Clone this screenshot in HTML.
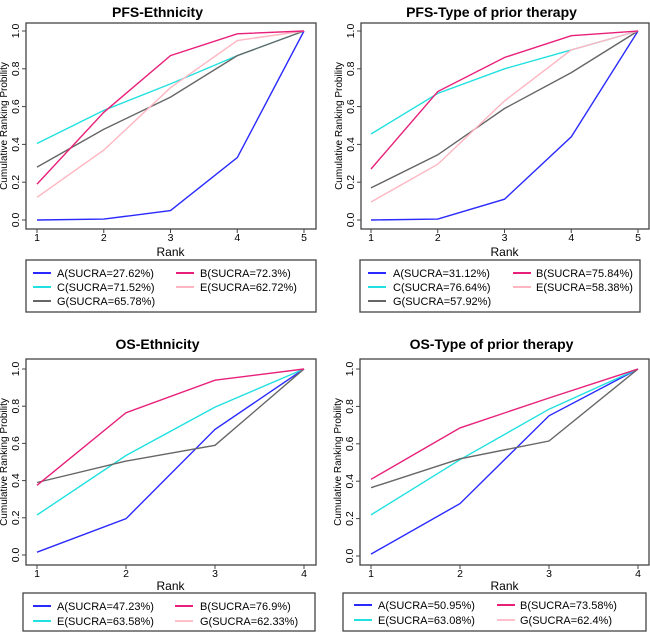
<!DOCTYPE html>
<html><head><meta charset="utf-8"><style>
body{margin:0;background:#fff;}
svg{display:block;font-family:"Liberation Sans",Arial,sans-serif;}
</style></head><body>
<svg id="c" width="650" height="632" viewBox="0 0 650 632"></svg>
<script>
const ranks5 = [1,2,3,4,5];
const ranks4 = [1,2,3,4];
const yTicks = [0,0.2,0.4,0.6,0.8,1.0];
const yTickLabels = ["0.0","0.2","0.4","0.6","0.8","1.0"];
const pfsEthA = [0,0.005,0.05,0.33,1];
const pfsEthB = [0.19,0.57,0.87,0.985,1];
const pfsEthC = [0.405,0.58,0.72,0.87,1];
const pfsEthE = [0.12,0.37,0.70,0.95,1];
const pfsEthG = [0.28,0.48,0.65,0.87,1];
const pfsTypA = [0,0.005,0.11,0.44,1];
const pfsTypB = [0.27,0.68,0.86,0.975,1];
const pfsTypC = [0.455,0.67,0.80,0.90,1];
const pfsTypE = [0.095,0.295,0.63,0.90,1];
const pfsTypG = [0.17,0.345,0.59,0.78,1];
const osEthA = [0.015,0.195,0.675,1];
const osEthB = [0.375,0.765,0.94,1];
const osEthE = [0.215,0.535,0.795,1];
const osEthG = [0.39,0.505,0.59,1];
const osTypA = [0.01,0.28,0.75,1];
const osTypB = [0.41,0.685,0.845,1];
const osTypE = [0.22,0.515,0.785,1];
const osTypG = [0.365,0.52,0.615,1];

const PFSCOL={A:"#2a2aff",B:"#e8207a",C:"#22e0e0",E:"#ffb6c1",G:"#666666"};
const OSCOL={A:"#2a2aff",B:"#e8207a",E:"#22e0e0",G:"#666666",Gl:"#ffc0cb"};
const svg=document.getElementById('c');
const NS="http://www.w3.org/2000/svg";
function mk(tag,attrs,parent){const e=document.createElementNS(NS,tag);for(const k in attrs)e.setAttribute(k,attrs[k]);(parent||svg).appendChild(e);return e;}

const panels=[
 {name:"pfs-ethnicity",title:"PFS-Ethnicity",col:PFSCOL,bx:26,by:23,bw:290,bh:206,x1:37,xN:304,y0:220,y1:31,titleY:12,tickY:241,rankY:256,
  ranks:ranks5,series:[["A",pfsEthA],["C",pfsEthC],["G",pfsEthG],["E",pfsEthE],["B",pfsEthB]],
  leg:{x:26,y:260,w:290,h:52,rows:[273,287,301],c1l:33,c1t:57,c2l:176,c2t:200},
  items:[["A","A(SUCRA=27.62%)"],["C","C(SUCRA=71.52%)"],["G","G(SUCRA=65.78%)"],["B","B(SUCRA=72.3%)"],["E","E(SUCRA=62.72%)"]]},
 {name:"pfs-type-of-prior-therapy",title:"PFS-Type of prior therapy",col:PFSCOL,bx:361,by:23,bw:288,bh:206,x1:371,xN:638,y0:220,y1:31,titleY:12,tickY:241,rankY:256,
  ranks:ranks5,series:[["A",pfsTypA],["C",pfsTypC],["G",pfsTypG],["E",pfsTypE],["B",pfsTypB]],
  leg:{x:360,y:260,w:280,h:52,rows:[273,287,301],c1l:368,c1t:393,c2l:513,c2t:536},
  items:[["A","A(SUCRA=31.12%)"],["C","C(SUCRA=76.64%)"],["G","G(SUCRA=57.92%)"],["B","B(SUCRA=75.84%)"],["E","E(SUCRA=58.38%)"]]},
 {name:"os-ethnicity",title:"OS-Ethnicity",col:OSCOL,bx:26,by:359,bw:290,bh:206,x1:37,xN:304,y0:555,y1:369,titleY:344,tickY:577,rankY:590,
  ranks:ranks4,series:[["A",osEthA],["E",osEthE],["G",osEthG],["B",osEthB]],
  leg:{x:23,y:593,w:292,h:38,rows:[606,621],c1l:33,c1t:57,c2l:175,c2t:200},
  items:[["A","A(SUCRA=47.23%)"],["E","E(SUCRA=63.58%)"],["B","B(SUCRA=76.9%)"],["Gl","G(SUCRA=62.33%)"]]},
 {name:"os-type-of-prior-therapy",title:"OS-Type of prior therapy",col:OSCOL,bx:360,by:359,bw:289,bh:206,x1:371,xN:638,y0:556,y1:369,titleY:344,tickY:577,rankY:590,
  ranks:ranks4,series:[["A",osTypA],["E",osTypE],["G",osTypG],["B",osTypB]],
  leg:{x:343,y:593,w:303,h:38,rows:[605,620],c1l:354,c1t:378,c2l:497,c2t:520},
  items:[["A","A(SUCRA=50.95%)"],["E","E(SUCRA=63.08%)"],["B","B(SUCRA=73.58%)"],["Gl","G(SUCRA=62.4%)"]]}
];

panels.forEach(p=>{
  const g=mk('g',{});
  
  
  const n=p.ranks.length;
  const xs=r=>p.x1+(r-1)*(p.xN-p.x1)/(n-1);
  const ys=v=>p.y0+v*(p.y1-p.y0);
  const t=mk('text',{x:(p.x1+p.xN)/2-13,y:p.titleY+5,'text-anchor':'middle','font-size':'14','font-weight':'bold',fill:'#000'},g);
  t.textContent=p.title;
  
  
  p.series.forEach(([k,vals])=>{
    const pts=vals.map((v,i)=>xs(p.ranks[i]).toFixed(1)+','+ys(v).toFixed(1)).join(' ');
    const l=mk('polyline',{points:pts,fill:'none',stroke:p.col[k],'stroke-width':'1.4'},g);
    
    
  });
  const box=mk('rect',{x:p.bx,y:p.by,width:p.bw,height:p.bh,fill:'none',stroke:'#444','stroke-width':'1.3'},g);
  
  
  yTicks.forEach((v,i)=>{
    const y=ys(v);
    mk('line',{x1:p.bx-4,x2:p.bx,y1:y,y2:y,stroke:'#444'},g);
    const tl=mk('text',{x:0,y:0,transform:`translate(${p.bx-7},${y}) rotate(-90)`,'text-anchor':'middle','font-size':'10.5',fill:'#000'},g);
    tl.textContent=yTickLabels[i];
    
    
  });
  p.ranks.forEach(r=>{
    const x=xs(r);
    mk('line',{x1:x,x2:x,y1:p.by+p.bh,y2:p.by+p.bh+4,stroke:'#444'},g);
    const tl=mk('text',{x:x,y:p.tickY,'text-anchor':'middle','font-size':'10.5',fill:'#000'},g);
    tl.textContent=r;
    
    
  });
  const yt=mk('text',{x:0,y:0,transform:`translate(${p.bx-19},${p.by+p.bh/2}) rotate(-90)`,'text-anchor':'middle','font-size':'10',fill:'#000'},g);
  yt.textContent='Cumulative Ranking Probility';
  
  
  const xt=mk('text',{x:(p.x1+p.xN)/2,y:p.rankY,'text-anchor':'middle','font-size':'12',fill:'#000'},g);
  xt.textContent='Rank';
  
  
  const L=p.leg;
  const lg=mk('g',{},g);
  
  
  mk('rect',{x:L.x,y:L.y,width:L.w,height:L.h,fill:'none',stroke:'#444','stroke-width':'1.3'},lg);
  const nr=L.rows.length;
  p.items.forEach(([k,label],i)=>{
    const col=i<nr?0:1, row=i<nr?i:i-nr;
    const y=L.rows[row];
    const lx=col?L.c2l:L.c1l, tx=col?L.c2t:L.c1t;
    mk('line',{x1:lx,x2:lx+18,y1:y,y2:y,stroke:p.col[k],'stroke-width':'2'},lg);
    const tt=mk('text',{x:tx,y:y+4,'font-size':'11',fill:'#000'},lg);
    tt.textContent=label;
    
    
  });
});
</script>
</body></html>
